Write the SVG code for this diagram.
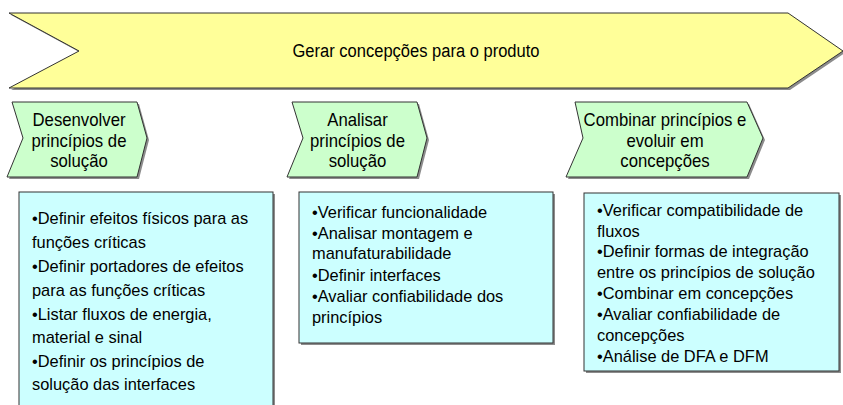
<svg xmlns="http://www.w3.org/2000/svg" width="843" height="405" viewBox="0 0 843 405">
<defs>
<style>
.shadow{fill:#8c8c8c;stroke:none}
.banner{fill:#FFFF99;stroke:#333333;stroke-width:1}
.chev{fill:#CCFFCC;stroke:#333333;stroke-width:1}
.box{fill:#CCFFFF;stroke:#333333;stroke-width:1}
.t{font-family:"Liberation Sans",Arial,sans-serif;fill:#000000}
.ct{font-size:18px;text-anchor:middle}
.bt{font-size:16.4px}
</style>
</defs>
<rect width="843" height="405" fill="#ffffff"/>
<g id="banner">
<polygon class="shadow" points="11,15 790,15 845,53 790,90 11,90 81,53"/>
<polygon class="banner" points="9,13 788,13 843,51 788,88 9,88 79,51"/>
<text class="t" x="416" y="57" font-size="18" text-anchor="middle" textLength="247" lengthAdjust="spacingAndGlyphs">Gerar concepções para o produto</text>
</g>
<g id="step1">
<polygon class="shadow" points="14,104 139,104 149,140 139,179 9,179 25,140"/>
<polygon class="chev" points="12,102 137,102 147,138 137,177 7,177 23,138"/>
<g transform="translate(79,0) scale(0.93,1)">
<text class="t ct" x="0" y="126.5">Desenvolver</text>
<text class="t ct" x="0" y="147">princípios de</text>
<text class="t ct" x="0" y="167.5">solução</text>
</g>
</g>
<g id="step2">
<polygon class="shadow" points="294,104 419,104 429,140 419,179 289,179 305,140"/>
<polygon class="chev" points="292,102 417,102 427,138 417,177 287,177 303,138"/>
<g transform="translate(357.5,0) scale(0.93,1)">
<text class="t ct" x="0" y="126.5">Analisar</text>
<text class="t ct" x="0" y="147">princípios de</text>
<text class="t ct" x="0" y="167.5">solução</text>
</g>
</g>
<g id="step3">
<polygon class="shadow" points="577,104 749,104 765,140 749,179 568,179 585,140"/>
<polygon class="chev" points="575,102 747,102 763,138 747,177 566,177 583,138"/>
<g transform="translate(665,0) scale(0.93,1)">
<text class="t ct" x="0" y="126.5">Combinar princípios e</text>
<text class="t ct" x="0" y="147">evoluir em</text>
<text class="t ct" x="0" y="167.5">concepções</text>
</g>
</g>
<g id="list1">
<rect class="shadow" x="21" y="194" width="254" height="230"/>
<rect class="box" x="19" y="192" width="254" height="230"/>
<text class="t bt">
<tspan x="32" y="224">•Definir efeitos físicos para as</tspan>
<tspan x="32" y="248">funções críticas</tspan>
<tspan x="32" y="272">•Definir portadores de efeitos</tspan>
<tspan x="32" y="296">para as funções críticas</tspan>
<tspan x="32" y="320">•Listar fluxos de energia,</tspan>
<tspan x="32" y="343">material e sinal</tspan>
<tspan x="32" y="367">•Definir os princípios de</tspan>
<tspan x="32" y="390">solução das interfaces</tspan>
</text>
</g>
<g id="list2">
<rect class="shadow" x="301" y="194" width="254" height="151"/>
<rect class="box" x="299" y="192" width="254" height="151"/>
<text class="t bt">
<tspan x="312" y="218">•Verificar funcionalidade</tspan>
<tspan x="312" y="239">•Analisar montagem e</tspan>
<tspan x="312" y="259">manufaturabilidade</tspan>
<tspan x="312" y="281">•Definir interfaces</tspan>
<tspan x="312" y="302">•Avaliar confiabilidade dos</tspan>
<tspan x="312" y="323">princípios</tspan>
</text>
</g>
<g id="list3">
<rect class="shadow" x="586" y="195" width="255" height="178"/>
<rect class="box" x="584" y="193" width="255" height="178"/>
<text class="t bt">
<tspan x="597" y="216">•Verificar compatibilidade de</tspan>
<tspan x="597" y="237">fluxos</tspan>
<tspan x="597" y="257">•Definir formas de integração</tspan>
<tspan x="597" y="278">entre os princípios de solução</tspan>
<tspan x="597" y="299">•Combinar em concepções</tspan>
<tspan x="597" y="320">•Avaliar confiabilidade de</tspan>
<tspan x="597" y="341">concepções</tspan>
<tspan x="597" y="362">•Análise de DFA e DFM</tspan>
</text>
</g>
<g id="connectors"></g>
</svg>
